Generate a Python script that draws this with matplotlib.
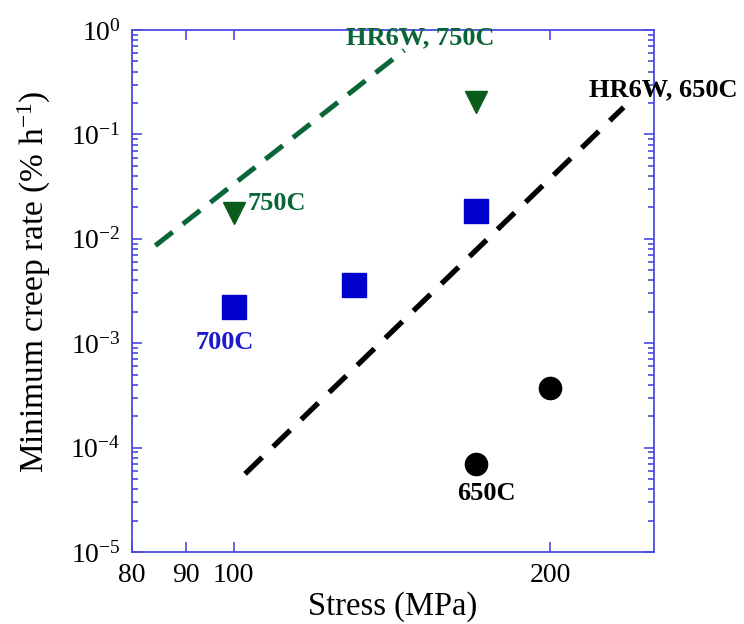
import matplotlib
matplotlib.use("Agg")
import matplotlib.pyplot as plt
from matplotlib.ticker import FixedLocator, NullLocator, LogLocator, FixedFormatter, NullFormatter

plt.rcParams['font.family'] = ['Liberation Serif', 'DejaVu Serif']
plt.rcParams['mathtext.fontset'] = 'custom'
plt.rcParams['mathtext.rm'] = 'Liberation Serif'
plt.rcParams['mathtext.it'] = 'Liberation Serif:italic'
plt.rcParams['mathtext.bf'] = 'Liberation Serif:bold'

# Data
stress_750 = [100, 170]
rate_750 = [0.0177, 0.205]
stress_700 = [100, 130, 170]
rate_700 = [0.0022, 0.0036, 0.0183]
stress_650 = [170, 200]
rate_650 = [7.0e-5, 3.75e-4]
hr6w_750_x = [84.2, 145.3]
hr6w_750_y = [8.6e-3, 0.64]
hr6w_650_x = [102.5, 235.0]
hr6w_650_y = [5.6e-5, 0.182]
x_ticks = [80, 90, 100, 200]
x_tick_labels = ['80', '90', '100', '200']
y_ticks = [1e-5, 1e-4, 1e-3, 1e-2, 1e-1, 1e0]
y_tick_labels = [r'$10^{-5}$', r'$10^{-4}$', r'$10^{-3}$', r'$10^{-2}$', r'$10^{-1}$', r'$10^{0}$']

green_line = '#0b6637'
green_mark = '#0a5c1c'
blue = '#0000cc'
spine_col = '#4a4ae0'

fig = plt.figure(figsize=(7.44, 6.24), dpi=100)
ax = fig.add_axes([0.1774, 0.1154, 0.7012, 0.8365])
ax.set_xscale('log')
ax.set_yscale('log')
ax.set_xlim(80, 251)
ax.set_ylim(1e-5, 1e0)

ax.plot(hr6w_750_x, hr6w_750_y, color=green_line, lw=3.6, dashes=(4.4, 2.6), dash_capstyle='butt')
ax.plot(hr6w_650_x, hr6w_650_y, color='black', lw=3.8, dashes=(4.5, 2.9), dash_capstyle='butt')

ax.plot(stress_750, rate_750, 'v', color=green_mark, ms=16, mec=green_mark, ls='none')
ax.plot(stress_700, rate_700, 's', color=blue, ms=17, mec=blue, ls='none')
ax.plot(stress_650, rate_650, 'o', color='black', ms=16, ls='none')

tk = dict(fontsize=19, fontweight='bold', ha='center', va='center')
ax.text(100 * 10 ** ((277 - 233.7) / 1049), 10 ** (-(203 - 30) / 104.4), '750C', color=green_line, **tk)
ax.text(100 * 10 ** ((420 - 233.7) / 1049), 10 ** (-(38 - 30) / 104.4), 'HR6W, 750C', color=green_line, **tk)
ax.text(100 * 10 ** ((663 - 233.7) / 1049), 10 ** (-(90 - 30) / 104.4), 'HR6W, 650C', color='black', clip_on=False, **tk)
ax.text(100 * 10 ** ((225 - 233.7) / 1049), 10 ** (-(342 - 30) / 104.4), '700C', color='#1a1acc', **tk)
ax.text(100 * 10 ** ((486 - 233.7) / 1049), 10 ** (-(494 - 30) / 104.4), '650C', color='black', **tk)

ax.xaxis.set_major_locator(FixedLocator(x_ticks))
ax.xaxis.set_major_formatter(FixedFormatter(x_tick_labels))
ax.xaxis.set_minor_locator(NullLocator())
ax.xaxis.set_minor_formatter(NullFormatter())
ax.yaxis.set_major_locator(FixedLocator(y_ticks))
ax.yaxis.set_major_formatter(FixedFormatter(y_tick_labels))
ax.yaxis.set_minor_locator(LogLocator(base=10, subs=range(2, 10), numticks=20))
ax.yaxis.set_minor_formatter(NullFormatter())

ax.tick_params(which='both', direction='in', top=True, right=True, color=spine_col, width=1.2)
ax.tick_params(which='major', length=7.5, labelsize=20, pad=8)
ax.tick_params(which='minor', length=4.5)
for s in ax.spines.values():
    s.set_color(spine_col)
    s.set_linewidth(1.3)

ax.set_xlabel('Stress (MPa)', fontsize=23.5, labelpad=2)
ax.set_ylabel(r'Minimum creep rate (% h$^{-1}$)', fontsize=24)
ax.yaxis.set_label_coords(-0.152, 0.518)

fig.savefig('out.png', dpi=100)
